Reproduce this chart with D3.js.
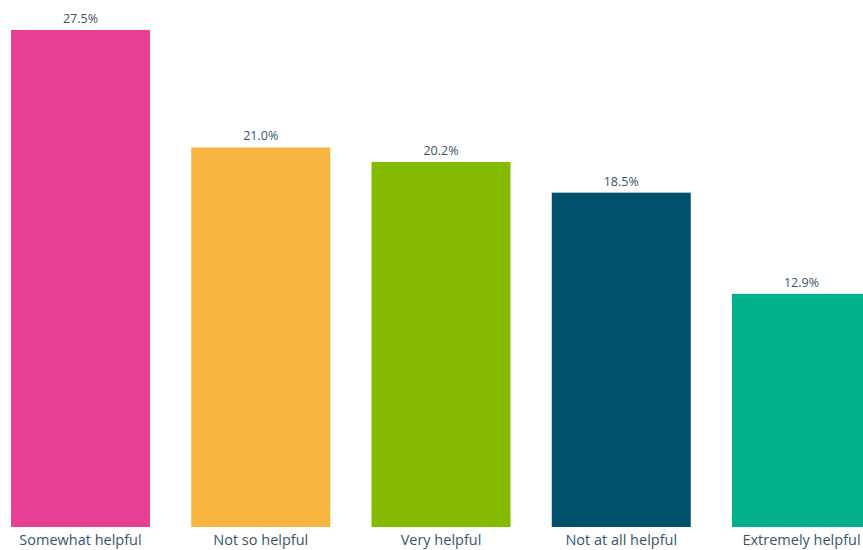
<!DOCTYPE html>
<html>
<head>
<meta charset="utf-8">
<script src="https://cdn.jsdelivr.net/npm/d3@7"></script>
<style>
  body { margin: 0; background: #fff; }
  svg { display: block; font-family: "Open Sans", Lato, sans-serif; }
</style>
</head>
<body>
<svg id="chart" width="863" height="550"></svg>
<script>
var categories = ["Somewhat helpful", "Not so helpful", "Very helpful", "Not at all helpful", "Extremely helpful"];
var values = [27.5, 21.0, 20.2, 18.5, 12.9];
var colors = ["#e73f94", "#f7b63f", "#84bb00", "#00506b", "#00b18b"];

var svg = d3.select("#chart");
var data = categories.map(function (c, i) { return { name: c, value: values[i], color: colors[i] }; });

var x = d3.scaleBand()
    .domain(categories)
    .range([11, 871])
    .paddingInner(0.229)
    .paddingOuter(0);

var y = d3.scaleLinear()
    .domain([0, 27.5])
    .range([527, 30]);

svg.selectAll(".bar")
    .data(data)
    .enter()
    .append("rect")
    .attr("class", "bar")
    .attr("x", function (d) { return x(d.name); })
    .attr("y", function (d) { return y(d.value); })
    .attr("width", x.bandwidth())
    .attr("height", function (d) { return y(0) - y(d.value); })
    .attr("fill", function (d) { return d.color; });

svg.selectAll(".val")
    .data(data)
    .enter()
    .append("text")
    .attr("class", "val")
    .attr("x", function (d) { return x(d.name) + x.bandwidth() / 2; })
    .attr("y", function (d) { return y(d.value) - 7; })
    .attr("text-anchor", "middle")
    .attr("font-size", 12.5)
    .attr("fill", "#3a5468")
    .text(function (d) { return d.value.toFixed(1) + "%"; });

var xAxis = d3.axisBottom(x).tickSize(0).tickPadding(8);
svg.append("g")
    .attr("transform", "translate(0,527)")
    .call(xAxis)
    .call(function (g) { g.select(".domain").remove(); })
    .selectAll("text")
    .attr("font-size", 14.5)
    .attr("font-family", "'Open Sans', Lato, sans-serif")
    .attr("fill", "#3a5468");
</script>
</body>
</html>
